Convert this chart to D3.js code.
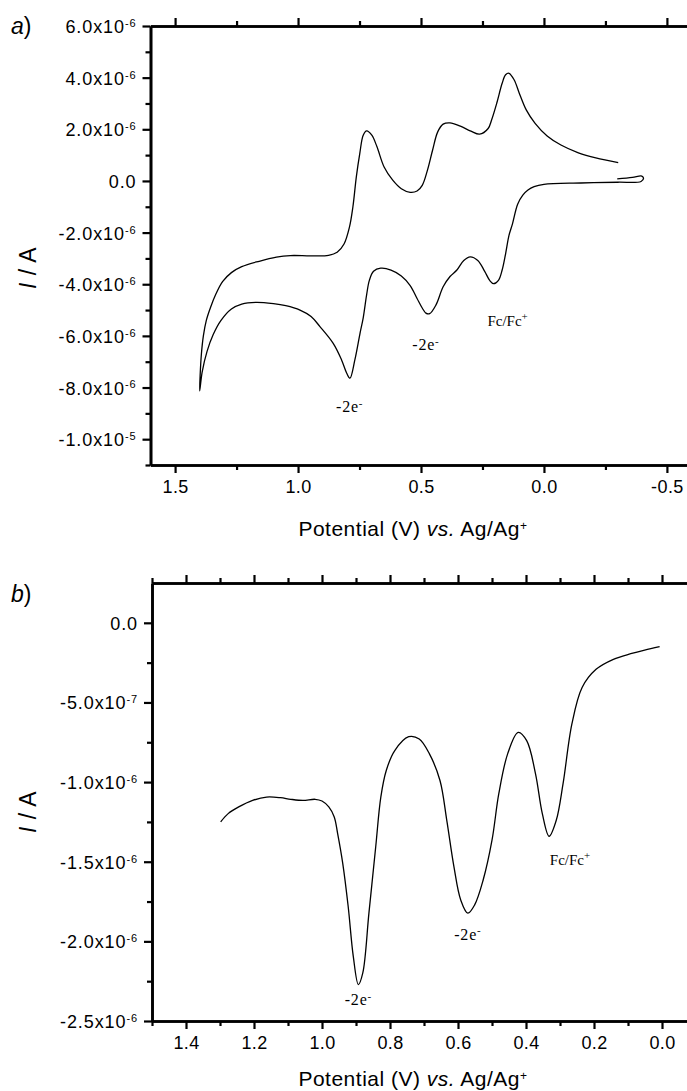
<!DOCTYPE html>
<html>
<head>
<meta charset="utf-8">
<script src="https://cdn.jsdelivr.net/npm/d3@7"></script>
<style>
  body { margin: 0; background: #fff; }
  text { font-family: "Liberation Sans", Arial, sans-serif; fill: #000; }
  .note { font-family: "Liberation Serif", "Times New Roman", serif; }
</style>
</head>
<body>
<div id="chart"></div>
<script>
// ---- panel a: cyclic voltammogram (potential in V, current in uA) ----
var cvPotential = [-0.298, -0.36, -0.398, -0.405, -0.395, -0.30, -0.15, 0.00, 0.04, 0.065,
  0.086, 0.107, 0.128, 0.142, 0.156, 0.170, 0.185, 0.205, 0.220, 0.241,
  0.269, 0.300, 0.326, 0.354, 0.382, 0.410, 0.439, 0.465, 0.480, 0.495,
  0.516, 0.544, 0.580, 0.622, 0.664, 0.693, 0.710, 0.721, 0.735, 0.748,
  0.769, 0.789, 0.802, 0.823, 0.857, 0.911, 0.947, 0.992, 1.050, 1.100,
  1.172, 1.229, 1.271, 1.314, 1.345, 1.370, 1.390, 1.400,
  1.398, 1.393, 1.385, 1.373, 1.356, 1.335, 1.307, 1.271, 1.229, 1.158,
  1.088, 1.031, 0.947, 0.876, 0.841, 0.813, 0.791, 0.777, 0.763, 0.749,
  0.735, 0.721, 0.700, 0.679, 0.650, 0.615, 0.580, 0.544, 0.516, 0.495,
  0.474, 0.453, 0.432, 0.410, 0.382, 0.340, 0.297, 0.262, 0.227, 0.213,
  0.192, 0.170, 0.156, 0.142, 0.121, 0.100, 0.072, 0.036, -0.013, -0.069,
  -0.140, -0.211, -0.302];
var cvCurrent = [0.08, 0.14, 0.19, 0.10, -0.02, -0.05, -0.08, -0.13, -0.22, -0.35,
  -0.55, -0.90, -1.66, -2.10, -2.82, -3.45, -3.85, -3.98, -3.86, -3.50,
  -3.08, -2.94, -3.08, -3.45, -3.70, -4.10, -4.80, -5.14, -5.12, -4.92,
  -4.55, -4.05, -3.68, -3.45, -3.38, -3.50, -3.85, -4.40, -5.30, -5.90,
  -6.93, -7.64, -7.45, -6.93, -6.29, -5.64, -5.25, -5.00, -4.83, -4.75,
  -4.70, -4.77, -4.96, -5.41, -5.95, -6.60, -7.40, -8.13,
  -7.50, -6.70, -6.00, -5.40, -4.90, -4.40, -3.90, -3.55, -3.32, -3.11,
  -2.95, -2.89, -2.90, -2.88, -2.76, -2.44, -1.79, -1.01, 0.16, 1.06,
  1.77, 1.94, 1.77, 1.32, 0.54, 0.03, -0.30, -0.44, -0.39, -0.17,
  0.41, 1.19, 1.90, 2.20, 2.25, 2.12, 1.93, 1.81, 2.03, 2.36,
  3.01, 3.78, 4.11, 4.17, 3.91, 3.39, 2.75, 2.23, 1.74, 1.39,
  1.09, 0.89, 0.71];

// ---- panel b: differential pulse scan (potential in V, current in uA) ----
var dpvPotential = [1.298, 1.276, 1.245, 1.204, 1.163, 1.122, 1.092, 1.056, 1.020, 1.000,
  0.980, 0.964, 0.954, 0.939, 0.923, 0.908, 0.893, 0.880, 0.862, 0.842,
  0.827, 0.811, 0.786, 0.745, 0.714, 0.684, 0.653, 0.633, 0.612, 0.592,
  0.571, 0.551, 0.526, 0.500, 0.480, 0.454, 0.423, 0.398, 0.372, 0.352,
  0.332, 0.311, 0.291, 0.265, 0.235, 0.194, 0.143, 0.092, 0.051, 0.007];
var dpvCurrent = [-1.25, -1.198, -1.156, -1.115, -1.094, -1.098, -1.108, -1.115, -1.108, -1.119,
  -1.156, -1.219, -1.323, -1.510, -1.781, -2.094, -2.271, -2.198, -1.823, -1.406,
  -1.094, -0.927, -0.802, -0.715, -0.729, -0.823, -0.990, -1.240, -1.531, -1.740,
  -1.823, -1.771, -1.615, -1.365, -1.073, -0.823, -0.688, -0.740, -0.948, -1.198,
  -1.340, -1.240, -1.010, -0.635, -0.406, -0.292, -0.229, -0.194, -0.171, -0.150];

// ticks
var aXTicks = [1.5, 1.0, 0.5, 0.0, -0.5];
var aXMinor = [1.25, 0.75, 0.25, -0.25];
var aYTicks = [-1e-5, -8e-6, -6e-6, -4e-6, -2e-6, 0, 2e-6, 4e-6, 6e-6];
var aYMinor = [-1.1e-5, -9e-6, -7e-6, -5e-6, -3e-6, -1e-6, 1e-6, 3e-6, 5e-6];
var bXTicks = [1.4, 1.2, 1.0, 0.8, 0.6, 0.4, 0.2, 0.0];
var bXMinor = [1.5, 1.3, 1.1, 0.9, 0.7, 0.5, 0.3, 0.1];
var bYTicks = [-2.5e-6, -2e-6, -1.5e-6, -1e-6, -5e-7, 0];
var bYMinor = [-2.25e-6, -1.75e-6, -1.25e-6, -7.5e-7, -2.5e-7];

// annotations: [label, sup, potential, current(uA)]
var aNotes = [["-2e", "-", 0.79, -8.95], ["-2e", "-", 0.48, -6.55], ["Fc/Fc", "+", 0.23, -5.6]];
var bNotes = [["-2e", "-", 0.893, -2.40], ["-2e", "-", 0.571, -1.99], ["Fc/Fc", "+", 0.33, -1.52]];

var W = 687, H = 1091;
var svg = d3.select("#chart").append("svg")
  .attr("width", W).attr("height", H);

function sciLabel(sel) {
  sel.each(function(d) {
    var t = d3.select(this);
    t.text(null);
    if (d === 0) { t.append("tspan").text("0.0"); return; }
    var e = Math.floor(Math.log10(Math.abs(d)) + 1e-9);
    var m = d / Math.pow(10, e);
    t.append("tspan").text(m.toFixed(1) + "x10");
    t.append("tspan").attr("dy", "-0.55em").attr("font-size", "11px").text(String(e));
  });
}

function panel(opt) {
  var g = svg.append("g");
  var x = d3.scaleLinear().domain(opt.xDomain).range(opt.xRange);
  var y = d3.scaleLinear().domain(opt.yDomain).range(opt.yRange);
  var top = opt.yRange[1], bottom = opt.yRange[0], left = opt.xRange[0];

  // minor ticks
  g.append("g").attr("transform", "translate(0," + bottom + ")")
    .call(d3.axisBottom(x).tickValues(opt.xMinor).tickSize(5).tickSizeOuter(0).tickFormat(""));
  g.append("g").attr("transform", "translate(0," + top + ")")
    .call(d3.axisTop(x).tickValues(opt.xMinor).tickSize(5).tickSizeOuter(0).tickFormat(""));
  g.append("g").attr("transform", "translate(" + left + ",0)")
    .call(d3.axisLeft(y).tickValues(opt.yMinor).tickSize(5).tickSizeOuter(0).tickFormat(""));

  // major ticks
  var xb = g.append("g").attr("class", "xaxis").attr("transform", "translate(0," + bottom + ")")
    .call(d3.axisBottom(x).tickValues(opt.xTicks).tickSize(8).tickPadding(7).tickSizeOuter(0)
      .tickFormat(function(d) { return d.toFixed(1); }));
  xb.selectAll("text").attr("font-size", "18px").attr("letter-spacing", "0.4px");
  g.append("g").attr("transform", "translate(0," + top + ")")
    .call(d3.axisTop(x).tickValues(opt.xTicks).tickSize(8).tickSizeOuter(0).tickFormat(""));
  var yl = g.append("g").attr("transform", "translate(" + left + ",0)")
    .call(d3.axisLeft(y).tickValues(opt.yTicks).tickSize(8).tickPadding(6).tickSizeOuter(0));
  yl.selectAll("text").attr("font-size", "18px").attr("letter-spacing", "0.9px")
    .attr("dy", "0.36em").call(sciLabel);

  g.selectAll(".domain").attr("stroke-width", 2.6);
  g.selectAll(".tick line").attr("stroke-width", 2.2);
  g.selectAll(".tick text").attr("fill", "#000");

  // curve
  var line = d3.line()
    .x(function(d) { return x(d[0]); })
    .y(function(d) { return y(d[1] * 1e-6); })
    .curve(d3.curveCatmullRom.alpha(0.5));
  var pts = opt.xs.map(function(v, i) { return [v, opt.ys[i]]; });
  g.append("path").datum(pts).attr("d", line)
    .attr("fill", "none").attr("stroke", "#000").attr("stroke-width", 1.3);

  // annotations
  opt.notes.forEach(function(n) {
    var isFc = n[0] === "Fc/Fc";
    var t = g.append("text").attr("class", "note")
      .attr("font-size", isFc ? "15px" : "16px")
      .attr("letter-spacing", isFc ? "0px" : "0.8px")
      .attr("x", x(n[2])).attr("y", y(n[3] * 1e-6))
      .attr("text-anchor", isFc ? "start" : "middle");
    t.append("tspan").text(n[0]);
    t.append("tspan").attr("dy", "-0.5em").attr("font-size", "11px").text(n[1]);
  });

  // axis titles
  var xt = g.append("text").attr("x", opt.xTitle[0]).attr("y", opt.xTitle[1])
    .attr("text-anchor", "middle").attr("font-size", "21px").attr("letter-spacing", "0.5px");
  xt.append("tspan").text("Potential (V) ");
  xt.append("tspan").attr("font-style", "italic").text("vs.");
  xt.append("tspan").text(" Ag/Ag");
  xt.append("tspan").attr("dy", "-0.5em").attr("font-size", "12px").text("+");

  var yt = g.append("text")
    .attr("transform", "translate(" + opt.yTitle[0] + "," + opt.yTitle[1] + ") rotate(-90)")
    .attr("text-anchor", "middle").attr("font-size", "23px").attr("letter-spacing", "0.5px");
  yt.append("tspan").attr("font-style", "italic").text("I");
  yt.append("tspan").text(" / A");

  var lab = g.append("text").attr("x", 11).attr("y", opt.tag[1]).attr("font-size", "23px");
  lab.append("tspan").attr("font-style", "italic").text(opt.tag[0]);
  lab.append("tspan").text(")");
}

panel({
  xDomain: [1.6, -0.6], xRange: [150.5, 691.5],
  yDomain: [-1.1e-5, 6e-6], yRange: [465, 26],
  xTicks: aXTicks, xMinor: aXMinor, yTicks: aYTicks, yMinor: aYMinor,
  xs: cvPotential, ys: cvCurrent, notes: aNotes,
  xTitle: [413, 536], yTitle: [36, 268], tag: ["a", 34]
});

panel({
  xDomain: [1.5, -0.1], xRange: [152, 696],
  yDomain: [-2.5e-6, 2.5e-7], yRange: [1021, 583],
  xTicks: bXTicks, xMinor: bXMinor, yTicks: bYTicks, yMinor: bYMinor,
  xs: dpvPotential, ys: dpvCurrent, notes: bNotes,
  xTitle: [413, 1086], yTitle: [36, 812], tag: ["b", 602]
});
</script>
</body>
</html>
